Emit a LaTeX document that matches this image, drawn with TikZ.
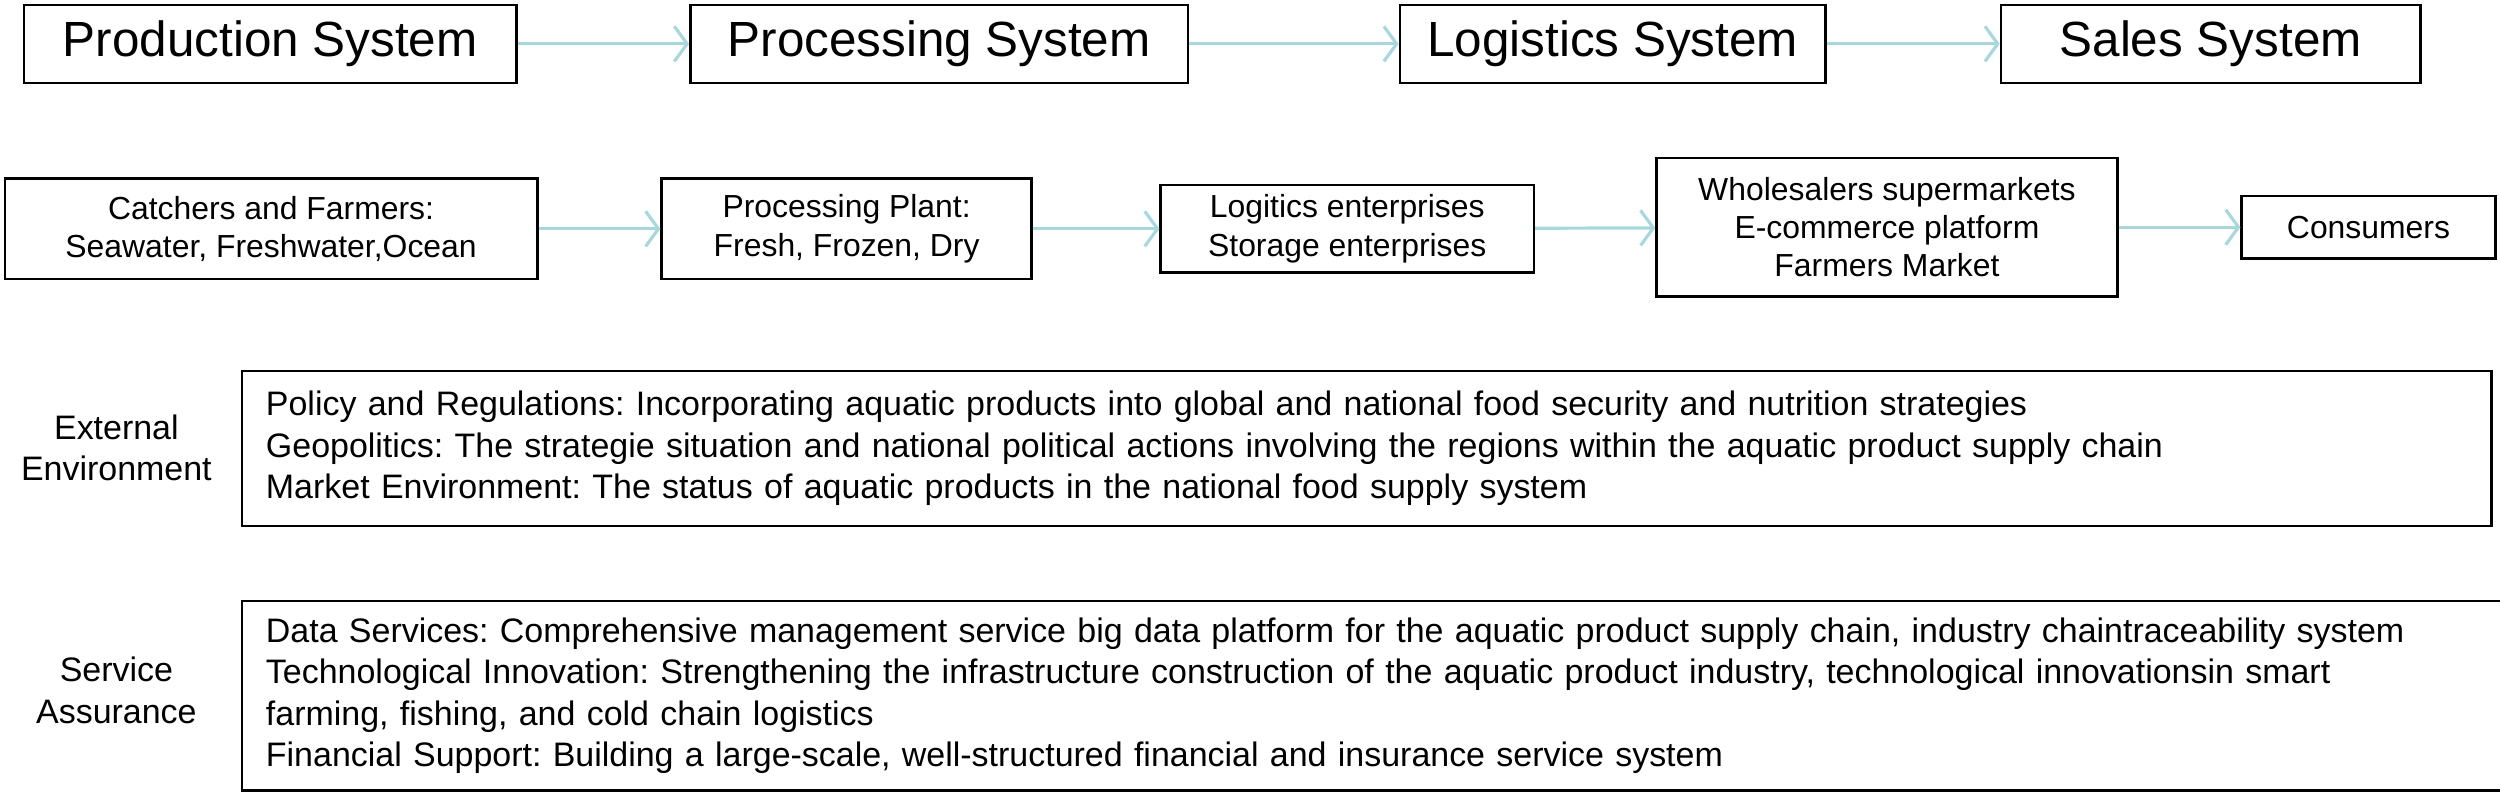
\documentclass[tikz,border=0pt]{standalone}
\usepackage{fontspec}
\setmainfont{Liberation Sans}
\usetikzlibrary{arrows.meta}
\definecolor{arr}{HTML}{A8D8DC}
\frenchspacing
\begin{document}
\begin{tikzpicture}[x=1pt,y=-1pt,
  bx/.style={draw,line width=1.6pt,inner sep=0pt,align=center},
  big/.style={bx,font=\fontsize{31}{36}\selectfont},
  mid/.style={bx,font=\fontsize{20}{24}\selectfont},
  wide/.style={draw,line width=1.6pt,inner xsep=15pt,inner ysep=0pt,align=left,anchor=north west,font=\fontsize{21.3}{26}\selectfont,text width=1381pt},
  lab/.style={align=center,font=\fontsize{21.3}{26}\selectfont},
  ar/.style={draw=arr,line width=2pt,-{Straight Barb[length=8pt,width=22pt,line width=2pt]}}]
\useasboundingbox (0,0) rectangle (1568,499);
\node[big,minimum width=309pt,minimum height=49pt] (p1) at (169.5,27.5) {Production System};
\node[big,minimum width=312pt,minimum height=49pt] (p2) at (589,27.5) {Processing System};
\node[big,minimum width=267pt,minimum height=49pt] (p3) at (1011.5,27.5) {Logistics System};
\node[big,minimum width=263pt,minimum height=49pt] (p4) at (1386.5,27.5) {Sales System};
\draw[ar] (p1) -- (p2); \draw[ar] (p2) -- (p3); \draw[ar] (p3) -- (p4);
\node[mid,minimum width=334pt,minimum height=63pt] (q1) at (170,143.5) {Catchers and Farmers:\\Seawater, Freshwater,Ocean};
\node[mid,minimum width=232pt,minimum height=63pt] (q2) at (531,143.5) {Processing Plant:\\Fresh, Frozen, Dry};
\node[mid,minimum width=234pt,minimum height=55pt] (q3) at (845,143.5) {Logitics enterprises\\Storage enterprises};
\node[mid,minimum width=289pt,minimum height=87pt] (q4) at (1183.5,142.5) {Wholesalers supermarkets\\E-commerce platform\\Farmers Market};
\node[mid,minimum width=159pt,minimum height=39pt] (q5) at (1485.5,142.5) {Consumers};
\draw[ar] (q1) -- (q2); \draw[ar] (q2) -- (q3); \draw[ar] (q3) -- (q4); \draw[ar] (q4) -- (q5);
\node[wide,minimum height=97pt] (e) at (151,232) {Policy and Regulations: Incorporating aquatic products into global and national food security and nutrition strategies\\Geopolitics: The strategie situation and national political actions involving the regions within the aquatic product supply chain\\Market Environment: The status of aquatic products in the national food supply system};
\node[lab] (el) at (73,281) {External\\Environment};
\node[wide,minimum height=119pt,text width=1395pt] (s) at (151,376) {Data Services: Comprehensive management service big data platform for the aquatic product supply chain, industry chaintraceability system\\Technological Innovation: Strengthening the infrastructure construction of the aquatic product industry, technological innovationsin smart\\farming, fishing, and cold chain logistics\\Financial Support: Building a large-scale, well-structured financial and insurance service system};
\node[lab] (sl) at (73,433) {Service\\Assurance};
\end{tikzpicture}
\end{document}
